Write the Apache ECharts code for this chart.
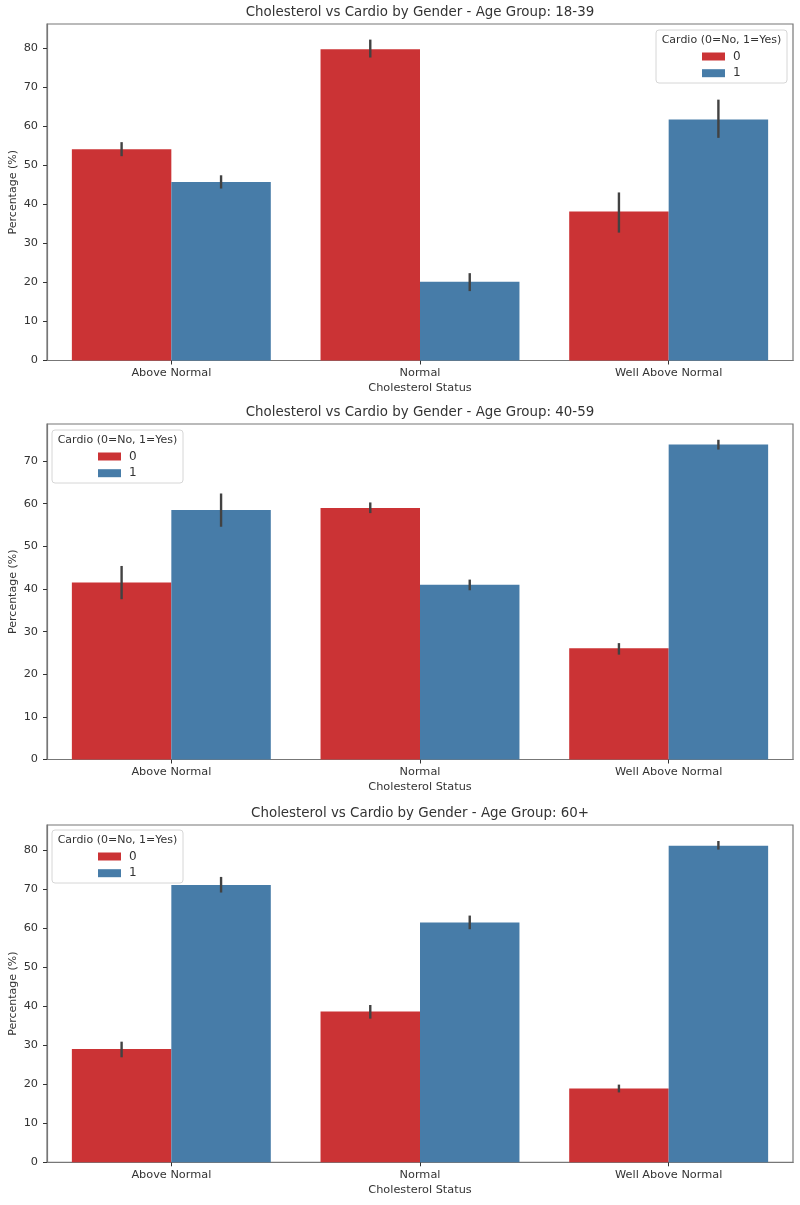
<!DOCTYPE html>
<html>
<head>
<meta charset="utf-8">
<script src="https://cdn.jsdelivr.net/npm/echarts@6/dist/echarts.min.js"></script>
<style>html,body{margin:0;padding:0;background:#fff}#c{width:800px;height:1205px}</style>
</head>
<body>
<div id="c"></div>
<script>
// ---- data ----
const categories = ['Above Normal', 'Normal', 'Well Above Normal'];
const ageGroups = ['18-39', '40-59', '60+'];
const hueNames = ['0', '1'];
const cardio0_18_39 = [54.2, 79.8, 38.2];
const cardio1_18_39 = [45.8, 20.2, 61.8];
const ci0_18_39 = [[52.4, 56.0], [77.7, 82.3], [32.8, 43.1]];
const ci1_18_39 = [[44.1, 47.5], [17.8, 22.4], [57.1, 66.9]];
const cardio0_40_59 = [41.5, 59.0, 26.1];
const cardio1_40_59 = [58.5, 41.0, 73.9];
const ci0_40_59 = [[37.6, 45.4], [57.8, 60.3], [24.6, 27.3]];
const ci1_40_59 = [[54.6, 62.4], [39.7, 42.2], [72.7, 75.0]];
const cardio0_60 = [29.0, 38.6, 18.9];
const cardio1_60 = [71.0, 61.4, 81.1];
const ci0_60 = [[26.9, 30.9], [36.8, 40.3], [17.9, 19.9]];
const ci1_60 = [[69.1, 73.1], [59.7, 63.2], [80.1, 82.3]];
const yTicks_18_39 = [0, 10, 20, 30, 40, 50, 60, 70, 80];
const yTicks_40_59 = [0, 10, 20, 30, 40, 50, 60, 70];
const yTicks_60 = [0, 10, 20, 30, 40, 50, 60, 70, 80];

const panels = [
  { age: ageGroups[0], v0: cardio0_18_39, v1: cardio1_18_39, e0: ci0_18_39, e1: ci1_18_39, ticks: yTicks_18_39 },
  { age: ageGroups[1], v0: cardio0_40_59, v1: cardio1_40_59, e0: ci0_40_59, e1: ci1_40_59, ticks: yTicks_40_59 },
  { age: ageGroups[2], v0: cardio0_60, v1: cardio1_60, e0: ci0_60, e1: ci1_60, ticks: yTicks_60 }
];

// ---- layout / style ----
const RED = '#cb3335', BLUE = '#477ca8';
const TXT = '#333';
const SPINE = '#777';
const gridTops = [24, 424, 825];
const gridHeights = [336.5, 335.5, 337.3];
const yMax = [86.3, 78.7, 86.4];
const legendBox = [
  { x: 656, y: 30, w: 131, h: 53 },
  { x: 52, y: 430, w: 131, h: 53 },
  { x: 52, y: 830, w: 131, h: 53 }
];
const FONT = 'DejaVu Sans';

const chart = echarts.init(document.getElementById('c'), null, { renderer: 'canvas' });

const grid = [], xAxis = [], yAxis = [], series = [], title = [], legend = [], graphic = [];

function errRender(params, api) {
  const c = api.value(0);
  const h = api.value(3);
  const bw = api.size([1, 0])[0];
  const x = api.coord([c, 0])[0] + (h === 0 ? -0.2 : 0.2) * bw;
  const y1 = api.coord([c, api.value(1)])[1];
  const y2 = api.coord([c, api.value(2)])[1];
  return { type: 'line', shape: { x1: x, y1: y1, x2: x, y2: y2 }, style: { stroke: '#424242', lineWidth: 2.4 } };
}

panels.forEach((p, i) => {
  grid.push({ left: 47, width: 746, top: gridTops[i], height: gridHeights[i], show: true, borderColor: SPINE, borderWidth: 1.2, backgroundColor: '#fff', outerBoundsMode: 'none', containLabel: false });
  xAxis.push({
    type: 'category', gridIndex: i, data: categories,
    axisLine: { show: true, lineStyle: { color: SPINE, width: 1.2 } },
    axisTick: { show: true, alignWithLabel: true, length: 4, lineStyle: { color: '#333' } },
    axisLabel: { color: TXT, fontSize: 11.3, fontFamily: FONT, margin: 7 },
    name: 'Cholesterol Status', nameLocation: 'middle', nameGap: 22, nameMoveOverlap: false,
    nameTextStyle: { color: TXT, fontSize: 11.3, fontFamily: FONT }
  });
  yAxis.push({
    type: 'value', gridIndex: i, min: 0, max: yMax[i],
    axisLine: { show: true, lineStyle: { color: SPINE, width: 1.2 } },
    axisTick: { show: true, length: 4, customValues: p.ticks, lineStyle: { color: '#333' } },
    axisLabel: { color: TXT, fontSize: 11.3, fontFamily: FONT, margin: 9, customValues: p.ticks },
    splitLine: { show: false },
    name: 'Percentage (%)', nameLocation: 'middle', nameGap: 28, nameMoveOverlap: false,
    nameTextStyle: { color: TXT, fontSize: 11, fontFamily: FONT }
  });
  series.push({
    type: 'bar', name: hueNames[0], xAxisIndex: i, yAxisIndex: i, data: p.v0,
    itemStyle: { color: RED }, barGap: '0%', barCategoryGap: '20%'
  });
  series.push({
    type: 'bar', name: hueNames[1], xAxisIndex: i, yAxisIndex: i, data: p.v1,
    itemStyle: { color: BLUE }, barGap: '0%', barCategoryGap: '20%'
  });
  const errData = [];
  p.e0.forEach((e, k) => errData.push([k, e[0], e[1], 0]));
  p.e1.forEach((e, k) => errData.push([k, e[0], e[1], 1]));
  series.push({
    type: 'custom', xAxisIndex: i, yAxisIndex: i, data: errData, z: 5,
    encode: { x: 0, y: [1, 2] }, renderItem: errRender, silent: true
  });
  title.push({
    text: 'Cholesterol vs Cardio by Gender - Age Group: ' + p.age,
    left: 420, textAlign: 'center', top: gridTops[i] - 18, padding: 0,
    textStyle: { color: TXT, fontSize: 13.4, fontWeight: 'normal', fontFamily: FONT }
  });
  const b = legendBox[i];
  graphic.push({
    type: 'rect', shape: { x: b.x, y: b.y, width: b.w, height: b.h, r: 3 },
    style: { fill: 'rgba(255,255,255,0.85)', stroke: '#d6d6d6', lineWidth: 1 }, z: 10
  });
  graphic.push({
    type: 'text', x: b.x + b.w / 2, y: b.y + 10.5, z: 11,
    style: { text: 'Cardio (0=No, 1=Yes)', fill: TXT, fontSize: 11, fontFamily: FONT, align: 'center', verticalAlign: 'middle' }
  });
  legend.push({
    data: hueNames, orient: 'vertical', left: b.x + 46, top: b.y + 20.5, padding: 0,
    itemWidth: 23, itemHeight: 8, itemGap: 4.7, icon: 'rect', z: 12,
    textStyle: { color: TXT, fontSize: 12, lineHeight: 12, fontFamily: FONT, padding: [0, 0, 0, 3] }, selectedMode: false
  });
});

chart.setOption({
  animation: false,
  backgroundColor: '#fff',
  textStyle: { fontFamily: FONT },
  title, grid, xAxis, yAxis, legend, series, graphic
});
</script>
</body>
</html>
